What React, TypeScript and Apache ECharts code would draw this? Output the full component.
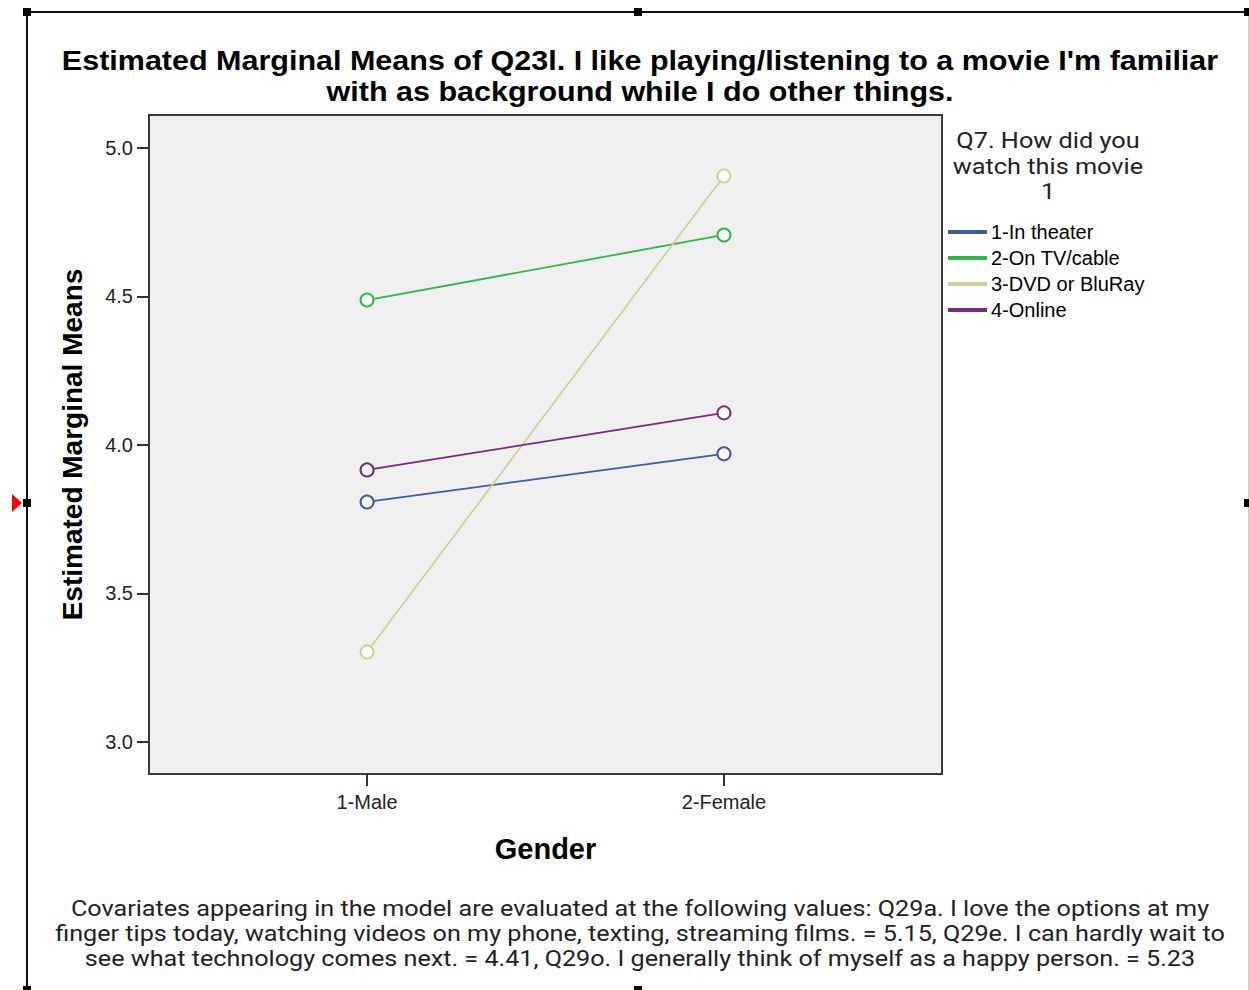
import React, { useEffect, useRef } from "react";
import * as echarts from "echarts";

const genderValues = [1, 2];
const genderLabels: Record<number, string> = { 1: "1-Male", 2: "2-Female" };
const seriesNames = ["1-In theater", "2-On TV/cable", "3-DVD or BluRay", "4-Online"];
const seriesColors = ["#3E58AC", "#2EB848", "#D3CE97", "#7C287D"];
const inTheater = [3.808, 3.97];
const onTv = [4.488, 4.707];
const dvd = [3.303, 4.906];
const online = [3.916, 4.108];
const yTicks = [3.0, 3.5, 4.0, 4.5, 5.0];
const titleLines = [
  "Estimated Marginal Means of Q23l. I like playing/listening to a movie I'm familiar",
  "with as background while I do other things.",
];
const legendTitleLines = ["Q7. How did you", "watch this movie", "1"];
const footLines = [
  "Covariates appearing in the model are evaluated at the following values: Q29a. I love the options at my",
  "finger tips today, watching videos on my phone, texting, streaming films. = 5.15, Q29e. I can hardly wait to",
  "see what technology comes next. = 4.41, Q29o. I generally think of myself as a happy person. = 5.23",
];

export default function App() {
  const ref = useRef<HTMLDivElement>(null);
  useEffect(() => {
    if (!ref.current) return;
    const chart = echarts.init(ref.current, null, { renderer: "svg" });
    const allData = [inTheater, onTv, dvd, online];
    const series = allData.map((vals, i) => ({
      name: seriesNames[i],
      type: "line",
      data: genderValues.map((g, j) => [g, vals[j]]),
      symbol: "emptyCircle",
      symbolSize: 13,
      color: seriesColors[i],
      lineStyle: { width: 1.8, color: seriesColors[i] },
      itemStyle: { color: seriesColors[i], borderColor: seriesColors[i], borderWidth: 1.5 },
      emphasis: { disabled: true },
    }));
    const square = (x: number, y: number) => ({
      type: "rect",
      shape: { x: x - 4, y: y - 4, width: 8, height: 8 },
      style: { fill: "#000" },
      z: 100,
    });
    chart.setOption({
      animation: false,
      backgroundColor: "#fff",
      grid: {
        left: 149,
        top: 115,
        width: 793,
        height: 659,
        show: true,
        backgroundColor: "#F0F0F0",
        borderColor: "#3a3a3a",
        borderWidth: 2,
      },
      xAxis: {
        type: "value",
        min: 0.389,
        max: 2.611,
        splitLine: { show: false },
        axisLine: { show: false },
        axisTick: { show: true, customValues: genderValues, length: 12, lineStyle: { color: "#333", width: 2 } },
        axisLabel: {
          customValues: genderValues,
          formatter: (v: number) => genderLabels[v] ?? "",
          fontFamily: "Liberation Sans",
          fontSize: 20,
          color: "#222",
          margin: 18,
        },
        name: "Gender",
        nameLocation: "middle",
        nameGap: 60,
        nameTextStyle: { fontFamily: "Liberation Sans", fontWeight: "bold", fontSize: 29, color: "#000" },
      },
      yAxis: {
        type: "value",
        min: 2.892,
        max: 5.111,
        splitLine: { show: false },
        axisLine: { show: false },
        axisTick: { show: true, customValues: yTicks, length: 12, lineStyle: { color: "#333", width: 2 } },
        axisLabel: {
          customValues: yTicks,
          formatter: (v: number) => v.toFixed(1),
          fontFamily: "Liberation Sans",
          fontSize: 20,
          color: "#222",
          margin: 16,
        },
        name: "Estimated Marginal Means",
        nameLocation: "middle",
        nameRotate: 90,
        nameGap: 63,
        nameTextStyle: { fontFamily: "Liberation Sans", fontWeight: "bold", fontSize: 28, color: "#000" },
      },
      legend: {
        orient: "vertical",
        left: 943,
        top: 217,
        itemWidth: 37,
        itemHeight: 2,
        itemGap: 6,
        icon: "rect",
        selectedMode: false,
        data: seriesNames,
        textStyle: { fontFamily: "Liberation Sans", fontSize: 20, lineHeight: 20, color: "#000" },
      },
      series,
      graphic: [
        { type: "line", shape: { x1: 27, y1: 12, x2: 1249, y2: 12 }, style: { stroke: "#111", lineWidth: 2 } },
        { type: "line", shape: { x1: 27, y1: 12, x2: 27, y2: 990 }, style: { stroke: "#111", lineWidth: 2 } },
        { type: "line", shape: { x1: 1248.5, y1: 12, x2: 1248.5, y2: 990 }, style: { stroke: "#cccccc", lineWidth: 1 } },
        square(27, 12),
        square(638, 12),
        square(1248, 12),
        square(27, 503),
        square(1248, 503),
        square(27, 990),
        square(638, 990),
        {
          type: "polygon",
          shape: { points: [[12, 494], [22, 503], [12, 512]] },
          style: { fill: "#ff0000" },
        },
        ...titleLines.map((t, i) => ({
          type: "text",
          x: 640,
          y: 60 + i * 31,
          scaleX: 1.09,
          style: {
            text: t,
            fontFamily: "Liberation Sans",
            fontWeight: "bold",
            fontSize: 28,
            fill: "#000",
            align: "center",
            verticalAlign: "middle",
          },
        })),
        ...legendTitleLines.map((t, i) => ({
          type: "text",
          x: 1048,
          y: 141 + i * 25.5,
          scaleX: 1.15,
          style: {
            text: t,
            fontFamily: "Roboto",
            fontSize: 22,
            fill: "#222",
            align: "center",
            verticalAlign: "middle",
          },
        })),
        ...footLines.map((t, i) => ({
          type: "text",
          x: 640,
          y: 909 + i * 25,
          scaleX: 1.145,
          style: {
            text: t,
            fontFamily: "Roboto",
            fontSize: 22,
            fill: "#222",
            align: "center",
            verticalAlign: "middle",
          },
        })),
      ],
    });
    return () => chart.dispose();
  }, []);
  return (
    <div
      ref={ref}
      style={{ position: "absolute", left: 0, top: 0, width: 1249, height: 990 }}
    />
  );
}
